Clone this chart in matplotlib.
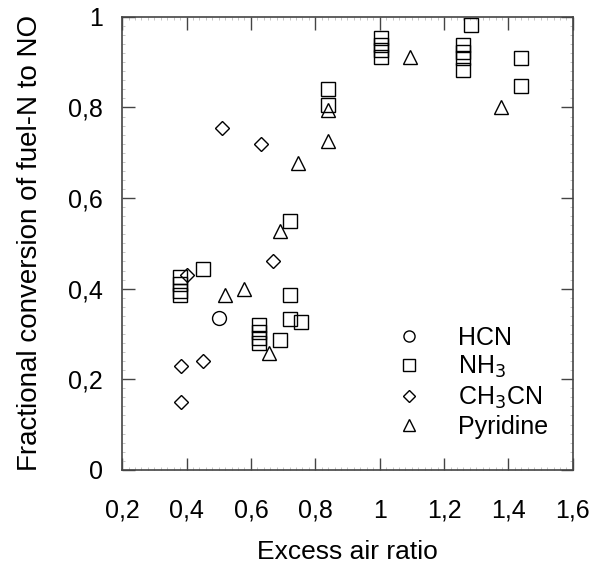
import matplotlib
matplotlib.use("Agg")
import matplotlib.pyplot as plt
from matplotlib.ticker import FuncFormatter, MultipleLocator

plt.rcParams['font.family'] = ['Liberation Sans', 'DejaVu Sans']

hcn_x = [0.50]
hcn_y = [0.335]

nh3_x = [0.38, 0.38, 0.38, 0.38, 0.45, 0.625, 0.625, 0.625, 0.625, 0.69, 0.72, 0.72, 0.72, 0.755,
         0.84, 0.84, 1.005, 1.005, 1.005, 1.005, 1.26, 1.26, 1.26, 1.26, 1.285, 1.44, 1.44]
nh3_y = [0.425, 0.41, 0.395, 0.385, 0.443, 0.32, 0.305, 0.292, 0.28, 0.287, 0.55, 0.386, 0.333, 0.327,
         0.84, 0.806, 0.953, 0.938, 0.927, 0.912, 0.938, 0.923, 0.91, 0.883, 0.982, 0.91, 0.848]

ch3cn_x = [0.40, 0.383, 0.45, 0.383, 0.51, 0.63, 0.67]
ch3cn_y = [0.43, 0.23, 0.24, 0.15, 0.755, 0.72, 0.46]

pyr_x = [0.52, 0.58, 0.657, 0.69, 0.747, 0.84, 0.84, 1.095, 1.376]
pyr_y = [0.385, 0.40, 0.258, 0.528, 0.678, 0.795, 0.725, 0.912, 0.80]

fig = plt.figure(figsize=(5.93, 5.64), dpi=100)
ax = fig.add_axes([0.206, 0.167, 0.76, 0.803])

mk = dict(linestyle='none', markerfacecolor='none', markeredgecolor='black', markeredgewidth=1.0)
ax.plot(hcn_x, hcn_y, 'o', markersize=10, label='HCN', **mk)
ax.plot(nh3_x, nh3_y, 's', markersize=10, label='NH$_3$', **mk)
ax.plot(ch3cn_x, ch3cn_y, 'D', markersize=7.5, label='CH$_3$CN', **mk)
ax.plot(pyr_x, pyr_y, '^', markersize=10, label='Pyridine', **mk)

ax.set_xlim(0.2, 1.6)
ax.set_ylim(0, 1)
ax.xaxis.set_major_locator(MultipleLocator(0.2))
ax.yaxis.set_major_locator(MultipleLocator(0.2))
ax.xaxis.set_minor_locator(MultipleLocator(0.02))
ax.yaxis.set_minor_locator(MultipleLocator(0.02))
fmt = FuncFormatter(lambda v, p: ('%g' % round(v, 2)).replace('.', ','))
ax.xaxis.set_major_formatter(fmt)
ax.yaxis.set_major_formatter(fmt)
ax.tick_params(which='major', direction='in', length=9, width=1, top=True, right=True,
               labelsize=18, colors='#444444', labelcolor='black')
ax.tick_params(axis='x', which='major', pad=21)
ax.tick_params(axis='y', which='major', pad=14)
ax.tick_params(which='minor', direction='in', length=2, width=0.6, top=True, right=True,
               colors='#bbbbbb')
for s in ax.spines.values():
    s.set_color('#444444')
    s.set_linewidth(1.2)

ax.set_xlabel('Excess air ratio', fontsize=19, labelpad=12)
ax.set_ylabel('Fractional conversion of fuel-N to NO', fontsize=20, labelpad=18)

leg = ax.legend(loc='upper left', bbox_to_anchor=(0.581, 0.318), frameon=False, fontsize=18,
                borderpad=0, borderaxespad=0, handlelength=2.0,
                handletextpad=0.96, labelspacing=0.17, markerscale=0.8)

fig.savefig('out.png', dpi=100)
